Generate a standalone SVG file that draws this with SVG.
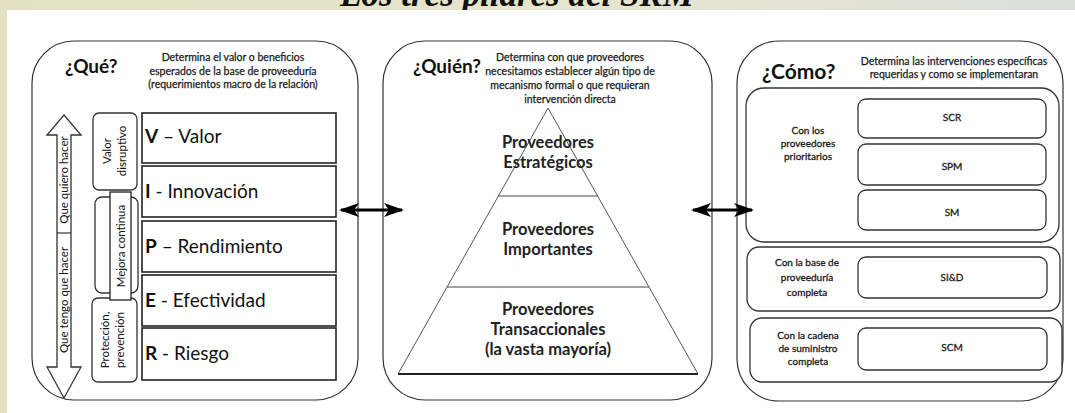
<svg xmlns="http://www.w3.org/2000/svg" width="1075" height="413" viewBox="0 0 1075 413">
<defs>
<linearGradient id="bg" x1="0" y1="0" x2="1" y2="0">
<stop offset="0" stop-color="#e3e1c3"/>
<stop offset="0.5" stop-color="#e6e5cc"/>
<stop offset="0.8" stop-color="#e2e3d6"/>
<stop offset="1" stop-color="#dadfdc"/>
</linearGradient>
<marker id="ah" viewBox="0 0 20 14" refX="18" refY="7" markerWidth="20" markerHeight="14" markerUnits="userSpaceOnUse" orient="auto-start-reverse">
<path d="M0,0 L20,7 L0,14 L5,7 Z" fill="#000"/>
</marker>
<style>
.pan{fill:#fff;stroke:#333;stroke-width:1.2}
.box{fill:#fff;stroke:#222;stroke-width:1.6}
.rbox{fill:#fff;stroke:#333;stroke-width:1.3}
.q{font-family:Lato,"Noto Sans",sans-serif;font-weight:bold;fill:#111}
.d{font-family:Lato,"Noto Sans",sans-serif;font-size:10.5px;fill:#1a1a1a;stroke:#1a1a1a;stroke-width:0.25;text-anchor:middle}
.big{font-family:Lato,"Noto Sans",sans-serif;font-size:19px;fill:#111}
.rot{font-family:Lato,"Noto Sans",sans-serif;font-size:11.5px;fill:#111;text-anchor:middle}
.pyr{font-family:Lato,"Noto Sans",sans-serif;font-size:16.5px;font-weight:bold;fill:#222;text-anchor:middle}
.s{font-family:Lato,"Noto Sans",sans-serif;font-size:10px;fill:#1a1a1a;stroke:#1a1a1a;stroke-width:0.3;text-anchor:middle}
.conn{stroke:#000;stroke-width:3;fill:none}
</style>
</defs>
<rect x="0" y="0" width="1075" height="413" fill="url(#bg)"/>
<text x="340" y="6" font-family="Liberation Serif,serif" font-style="italic" font-weight="bold" font-size="35" fill="#111">Los tres pilares del SRM</text>
<rect x="7" y="10" width="1068" height="403" fill="#fff"/>

<g id="que">
<rect class="pan" x="32" y="41" width="326" height="359" rx="42" ry="42"/>
<text class="q" x="65" y="73" font-size="19">¿Qué?</text>
<text class="d" x="233" y="61">Determina el valor o beneficios</text>
<text class="d" x="233" y="75">esperados de la base de proveeduría</text>
<text class="d" x="233" y="88">(requerimientos macro de la relación)</text>
</g>

<g id="arrow-que-tengo">
<path d="M64,115 L81,135 L71,135 L71,367 L81,367 L64,398 L47,367 L57,367 L57,135 L47,135 Z" fill="#fff" stroke="#333" stroke-width="1.3"/>
<line x1="57" y1="233" x2="71" y2="233" stroke="#333" stroke-width="1.2"/>
<text class="rot" font-size="12" transform="translate(68,180) rotate(-90)">Que quiero hacer</text>
<text class="rot" font-size="12" transform="translate(68,300) rotate(-90)">Que tengo que hacer</text>
</g>

<g id="valor-disruptivo">
<rect class="rbox" x="93" y="113" width="44" height="77" rx="6"/>
<text class="rot" transform="translate(111,151) rotate(-90)">Valor</text>
<text class="rot" transform="translate(126,151) rotate(-90)">disruptivo</text>
</g>
<g id="proteccion">
<rect class="rbox" x="92" y="298" width="45" height="84" rx="6"/>
<text class="rot" transform="translate(109,340) rotate(-90)">Protección,</text>
<text class="rot" transform="translate(124,340) rotate(-90)">prevención</text>
</g>
<g id="mejora">
<rect class="rbox" x="95" y="197" width="43" height="96" rx="7"/>
<rect x="110" y="192" width="21" height="108" fill="#fff" stroke="#222" stroke-width="1.3"/>
<text class="rot" font-size="12" transform="translate(125,246) rotate(-90)">Mejora continua</text>
</g>

<g id="v">
<rect class="box" x="142" y="113" width="194" height="50"/>
<text class="big" x="145" y="143"><tspan font-weight="bold">V</tspan> – Valor</text>
</g>
<g id="i">
<rect class="box" x="142" y="166" width="194" height="51"/>
<text class="big" x="145" y="198"><tspan font-weight="bold">I</tspan> - Innovación</text>
</g>
<g id="p">
<rect class="box" x="142" y="221" width="194" height="51"/>
<text class="big" x="145" y="253"><tspan font-weight="bold">P</tspan> – Rendimiento</text>
</g>
<g id="e">
<rect class="box" x="142" y="275" width="194" height="51"/>
<text class="big" x="145" y="307"><tspan font-weight="bold">E</tspan> - Efectividad</text>
</g>
<g id="r">
<rect class="box" x="142" y="328" width="194" height="52"/>
<text class="big" x="145" y="360"><tspan font-weight="bold">R</tspan> - Riesgo</text>
</g>

<g id="quien">
<rect class="pan" x="383" y="41" width="329" height="359" rx="42" ry="42"/>
<text class="q" x="413" y="73" font-size="19">¿Quién?</text>
<text class="d" x="570" y="61">Determina con que proveedores</text>
<text class="d" x="570" y="75">necesitamos establecer algún tipo de</text>
<text class="d" x="570" y="89">mecanismo formal o que requieran</text>
<text class="d" x="570" y="103">intervención directa</text>
</g>

<g id="piramide">
<path d="M398,374 L548,108 L698,374" fill="none" stroke="#555" stroke-width="1"/>
<line x1="398" y1="374" x2="698" y2="374" stroke="#222" stroke-width="2"/>
<line x1="498.4" y1="196" x2="597.6" y2="196" stroke="#444" stroke-width="1"/>
<line x1="447.1" y1="287" x2="648.9" y2="287" stroke="#444" stroke-width="1"/>
</g>
<g id="estrategicos">
<text class="pyr" x="548" y="148">Proveedores</text>
<text class="pyr" x="548" y="168">Estratégicos</text>
</g>
<g id="importantes">
<text class="pyr" x="548" y="235">Proveedores</text>
<text class="pyr" x="548" y="255">Importantes</text>
</g>
<g id="transaccionales">
<text class="pyr" x="548" y="315">Proveedores</text>
<text class="pyr" x="548" y="335">Transaccionales</text>
<text class="pyr" x="548" y="355">(la vasta mayoría)</text>
</g>

<g id="como">
<rect class="pan" x="737" y="41" width="326" height="360" rx="42" ry="42"/>
<text class="q" x="762" y="79" font-size="21">¿Cómo?</text>
<text class="d" x="954" y="65">Determina las intervenciones específicas</text>
<text class="d" x="954" y="78">requeridas y como se implementaran</text>
</g>
<g id="prioritarios">
<rect class="rbox" x="746" y="88" width="313" height="154" rx="18"/>
<text class="s" x="808" y="134">Con los</text>
<text class="s" x="808" y="147">proveedores</text>
<text class="s" x="808" y="160">prioritarios</text>
</g>
<g id="scr">
<rect class="rbox" x="858" y="99" width="188" height="39" rx="8"/>
<text class="s" x="952" y="121">SCR</text>
</g>
<g id="spm">
<rect class="rbox" x="858" y="144" width="188" height="41" rx="8"/>
<text class="s" x="952" y="170">SPM</text>
</g>
<g id="sm">
<rect class="rbox" x="858" y="190" width="188" height="40" rx="8"/>
<text class="s" x="952" y="216">SM</text>
</g>
<g id="base">
<rect class="rbox" x="747" y="247" width="313" height="64" rx="12"/>
<text class="s" x="807" y="266">Con la base de</text>
<text class="s" x="807" y="281">proveeduría</text>
<text class="s" x="807" y="296">completa</text>
</g>
<g id="sid">
<rect class="rbox" x="858" y="257" width="189" height="41" rx="8"/>
<text class="s" x="952" y="281">SI&amp;D</text>
</g>
<g id="cadena">
<rect class="rbox" x="750" y="318" width="312" height="64" rx="12"/>
<text class="s" x="808" y="339">Con la cadena</text>
<text class="s" x="808" y="352">de suministro</text>
<text class="s" x="808" y="365">completa</text>
</g>
<g id="scm">
<rect class="rbox" x="858" y="328" width="189" height="42" rx="8"/>
<text class="s" x="952" y="351">SCM</text>
</g>

<g id="connectors">
<line class="conn" x1="341" y1="210" x2="402" y2="210" marker-start="url(#ah)" marker-end="url(#ah)"/>
<line class="conn" x1="693" y1="210" x2="752" y2="210" marker-start="url(#ah)" marker-end="url(#ah)"/>
</g>
</svg>
